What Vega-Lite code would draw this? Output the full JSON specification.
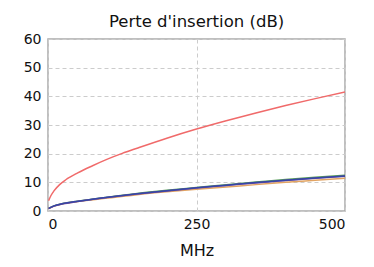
{
  "$schema": "https://vega.github.io/schema/vega-lite/v6.json",
  "width": 297,
  "height": 172,
  "autosize": "none",
  "padding": {"left": 48, "top": 39, "right": 29, "bottom": 56},
  "background": "white",
  "title": {"text": "Perte d'insertion (dB)", "font": "DejaVu Sans", "fontSize": 16.5, "fontWeight": "normal", "color": "#111111", "anchor": "middle", "offset": 2},
  "config": {
    "view": {"stroke": "#aaaaaa", "strokeWidth": 1.5},
    "font": "DejaVu Sans"
  },
  "data": {"values": [
    {"f": 1, "loss": 3.6, "s": "red"}, {"f": 5, "loss": 5.4, "s": "red"}, {"f": 10, "loss": 7.0, "s": "red"}, {"f": 20, "loss": 9.3, "s": "red"}, {"f": 30, "loss": 10.9, "s": "red"}, {"f": 50, "loss": 13.3, "s": "red"}, {"f": 75, "loss": 15.8, "s": "red"}, {"f": 100, "loss": 18.1, "s": "red"}, {"f": 125, "loss": 20.1, "s": "red"}, {"f": 150, "loss": 21.9, "s": "red"}, {"f": 200, "loss": 25.4, "s": "red"}, {"f": 250, "loss": 28.6, "s": "red"}, {"f": 300, "loss": 31.5, "s": "red"}, {"f": 350, "loss": 34.2, "s": "red"}, {"f": 400, "loss": 36.8, "s": "red"}, {"f": 450, "loss": 39.2, "s": "red"}, {"f": 500, "loss": 41.5, "s": "red"},
    {"f": 1, "loss": 0.9, "s": "green"}, {"f": 10, "loss": 1.8, "s": "green"}, {"f": 25, "loss": 2.6, "s": "green"}, {"f": 50, "loss": 3.4, "s": "green"}, {"f": 100, "loss": 4.8, "s": "green"}, {"f": 150, "loss": 6.1, "s": "green"}, {"f": 200, "loss": 7.2, "s": "green"}, {"f": 250, "loss": 8.2, "s": "green"}, {"f": 300, "loss": 9.2, "s": "green"}, {"f": 350, "loss": 10.1, "s": "green"}, {"f": 400, "loss": 11.0, "s": "green"}, {"f": 450, "loss": 11.8, "s": "green"}, {"f": 500, "loss": 12.5, "s": "green"},
    {"f": 1, "loss": 0.8, "s": "orange"}, {"f": 10, "loss": 1.7, "s": "orange"}, {"f": 25, "loss": 2.5, "s": "orange"}, {"f": 50, "loss": 3.3, "s": "orange"}, {"f": 100, "loss": 4.5, "s": "orange"}, {"f": 150, "loss": 5.7, "s": "orange"}, {"f": 200, "loss": 6.7, "s": "orange"}, {"f": 250, "loss": 7.6, "s": "orange"}, {"f": 300, "loss": 8.4, "s": "orange"}, {"f": 350, "loss": 9.2, "s": "orange"}, {"f": 400, "loss": 10.0, "s": "orange"}, {"f": 450, "loss": 10.7, "s": "orange"}, {"f": 500, "loss": 11.4, "s": "orange"},
    {"f": 1, "loss": 0.8, "s": "purple"}, {"f": 10, "loss": 1.7, "s": "purple"}, {"f": 25, "loss": 2.5, "s": "purple"}, {"f": 50, "loss": 3.3, "s": "purple"}, {"f": 100, "loss": 4.7, "s": "purple"}, {"f": 150, "loss": 5.9, "s": "purple"}, {"f": 200, "loss": 7.0, "s": "purple"}, {"f": 250, "loss": 8.0, "s": "purple"}, {"f": 300, "loss": 8.9, "s": "purple"}, {"f": 350, "loss": 9.8, "s": "purple"}, {"f": 400, "loss": 10.6, "s": "purple"}, {"f": 450, "loss": 11.4, "s": "purple"}, {"f": 500, "loss": 12.1, "s": "purple"},
    {"f": 1, "loss": 0.9, "s": "blue"}, {"f": 10, "loss": 1.8, "s": "blue"}, {"f": 25, "loss": 2.6, "s": "blue"}, {"f": 50, "loss": 3.4, "s": "blue"}, {"f": 75, "loss": 4.1, "s": "blue"}, {"f": 100, "loss": 4.8, "s": "blue"}, {"f": 150, "loss": 6.0, "s": "blue"}, {"f": 200, "loss": 7.1, "s": "blue"}, {"f": 250, "loss": 8.1, "s": "blue"}, {"f": 300, "loss": 9.0, "s": "blue"}, {"f": 350, "loss": 9.9, "s": "blue"}, {"f": 400, "loss": 10.7, "s": "blue"}, {"f": 450, "loss": 11.5, "s": "blue"}, {"f": 500, "loss": 12.2, "s": "blue"}
  ]},
  "mark": {"type": "line", "strokeWidth": 1.5, "clip": true, "interpolate": "monotone"},
  "encoding": {
    "x": {"field": "f", "type": "quantitative", "scale": {"domain": [0, 500], "nice": false},
      "axis": {"values": [0, 250, 500], "title": "MHz", "titleFont": "DejaVu Sans", "titleFontSize": 16, "titleFontWeight": "normal", "titleColor": "#111111", "titlePadding": 11,
        "labelFont": "DejaVu Sans", "labelFontSize": 14, "labelColor": "#111111", "labelPadding": 6, "ticks": false, "domain": false,
        "grid": true, "gridColor": "#cccccc", "gridDash": [4, 3], "gridWidth": 1}},
    "y": {"field": "loss", "type": "quantitative", "scale": {"domain": [0, 60], "nice": false},
      "axis": {"values": [0, 10, 20, 30, 40, 50, 60], "title": null,
        "labelFont": "DejaVu Sans", "labelFontSize": 14, "labelColor": "#111111", "labelPadding": 7, "ticks": false, "domain": false,
        "grid": true, "gridColor": "#cccccc", "gridDash": [4, 3], "gridWidth": 1}},
    "color": {"field": "s", "type": "nominal", "legend": null,
      "scale": {"domain": ["red", "green", "orange", "purple", "blue"], "range": ["#f06a6a", "#5a9e5a", "#e2a462", "#7448a0", "#3646a6"]}},
    "order": {"field": "s", "sort": "ascending"}
  }
}
